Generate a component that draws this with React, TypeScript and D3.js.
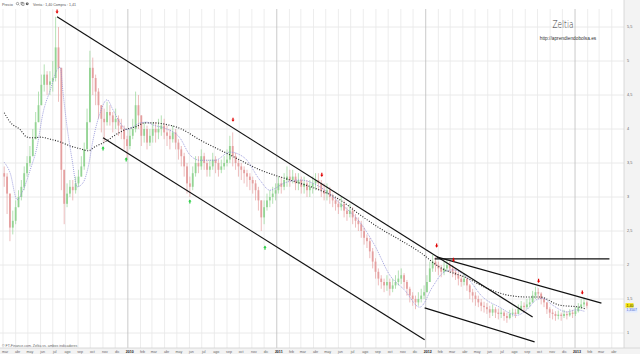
import React from "react";
import * as d3 from "d3";

const W = 640;
const H = 354;
const DAY = 864e5;
const firstWeek = new Date(2009, 2, 2);

// weekly candles (close, high, low); open = previous close
const closes = [
  3.30,3.05,2.55,2.65,2.85,3.00,3.15,3.35,3.50,3.60,
  3.85,4.10,4.35,4.65,4.80,4.65,4.70,4.75,5.20,4.90,
  3.40,2.90,3.05,3.15,3.10,3.20,3.30,3.45,3.70,4.10,
  4.90,4.75,4.55,4.35,4.15,4.10,4.25,4.20,4.10,4.15,
  4.05,4.00,3.85,3.75,3.90,4.00,4.35,4.20,3.90,4.00,
  3.80,3.90,4.00,3.95,4.00,4.05,3.95,3.90,3.85,3.95,
  3.80,3.70,3.60,3.45,3.20,3.15,3.35,3.50,3.45,3.60,
  3.50,3.40,3.45,3.55,3.50,3.40,3.45,3.50,3.55,3.75,
  3.60,3.50,3.45,3.40,3.35,3.30,3.25,3.20,3.10,2.95,
  2.70,2.85,2.95,3.00,3.05,3.10,3.20,3.15,3.25,3.30,
  3.25,3.30,3.20,3.25,3.15,3.20,3.10,3.15,3.20,3.25,
  3.20,3.10,3.05,3.10,3.00,2.95,2.90,2.85,2.90,2.80,
  2.75,2.80,2.70,2.65,2.60,2.50,2.40,2.35,2.20,2.05,
  1.90,1.80,1.75,1.70,1.75,1.65,1.70,1.75,1.80,1.85,
  1.75,1.65,1.55,1.50,1.45,1.50,1.55,1.60,1.75,1.95,
  2.05,2.00,1.95,1.90,1.95,2.00,1.95,1.90,1.85,1.80,
  1.75,1.80,1.70,1.60,1.55,1.50,1.45,1.40,1.38,1.35,
  1.30,1.35,1.30,1.28,1.30,1.25,1.22,1.28,1.30,1.28,
  1.35,1.40,1.38,1.42,1.45,1.55,1.60,1.58,1.50,1.45,
  1.35,1.30,1.28,1.25,1.27,1.25,1.28,1.26,1.30,1.28,
  1.32,1.38,1.42,1.45,1.40,
];
const highs = [
  3.45,3.35,3.00,2.80,2.95,3.10,3.25,3.45,3.60,3.75,
  4.00,4.25,4.55,4.80,4.95,4.85,4.85,5.00,5.65,5.50,
  4.60,3.30,3.20,3.25,3.25,3.30,3.40,3.60,3.80,4.30,
  5.15,5.05,4.80,4.60,4.35,4.30,4.40,4.35,4.25,4.30,
  4.20,4.15,4.05,3.90,4.00,4.15,4.55,4.50,4.20,4.10,
  4.05,4.00,4.10,4.10,4.15,4.20,4.15,4.05,4.00,4.05,
  4.00,3.85,3.75,3.65,3.50,3.30,3.45,3.60,3.60,3.70,
  3.65,3.55,3.55,3.65,3.60,3.55,3.55,3.60,3.70,3.90,
  3.95,3.65,3.55,3.50,3.45,3.40,3.35,3.30,3.25,3.15,
  2.95,2.95,3.05,3.10,3.15,3.20,3.30,3.30,3.35,3.45,
  3.40,3.40,3.35,3.35,3.30,3.30,3.25,3.25,3.30,3.35,
  3.35,3.25,3.20,3.20,3.15,3.05,3.00,2.95,3.00,2.95,
  2.85,2.90,2.85,2.75,2.70,2.65,2.55,2.45,2.40,2.25,
  2.10,1.95,1.85,1.80,1.85,1.80,1.80,1.85,1.92,1.95,
  1.88,1.78,1.68,1.60,1.55,1.60,1.65,1.70,1.85,2.05,
  2.15,2.12,2.05,2.00,2.05,2.08,2.05,2.00,1.95,1.90,
  1.85,1.88,1.82,1.72,1.65,1.60,1.55,1.50,1.46,1.44,
  1.40,1.42,1.38,1.36,1.36,1.33,1.30,1.34,1.36,1.35,
  1.42,1.47,1.45,1.50,1.52,1.62,1.68,1.66,1.60,1.52,
  1.45,1.38,1.35,1.32,1.33,1.30,1.34,1.32,1.35,1.34,
  1.38,1.44,1.50,1.52,1.48,
];
const lows = [
  3.15,2.75,2.35,2.45,2.60,2.85,2.95,3.10,3.30,3.45,
  3.60,3.85,4.10,4.35,4.55,4.50,4.50,4.55,4.70,4.40,
  3.10,2.60,2.85,3.00,2.95,3.05,3.15,3.30,3.40,3.70,
  4.20,4.50,4.35,4.15,3.95,3.80,4.05,4.05,3.95,4.00,
  3.90,3.85,3.70,3.55,3.70,3.85,3.95,4.00,3.75,3.80,
  3.70,3.75,3.80,3.80,3.85,3.90,3.85,3.75,3.70,3.80,
  3.70,3.55,3.45,3.30,3.05,3.00,3.10,3.30,3.35,3.40,
  3.40,3.30,3.30,3.40,3.35,3.30,3.35,3.40,3.45,3.50,
  3.45,3.40,3.30,3.25,3.20,3.15,3.10,3.05,2.95,2.80,
  2.50,2.60,2.80,2.85,2.90,2.95,3.05,3.05,3.10,3.15,
  3.15,3.20,3.10,3.10,3.05,3.05,3.00,3.00,3.05,3.10,
  3.10,3.00,2.95,2.95,2.90,2.85,2.80,2.75,2.80,2.70,
  2.65,2.70,2.60,2.55,2.50,2.40,2.30,2.25,2.10,1.95,
  1.80,1.70,1.65,1.60,1.62,1.55,1.60,1.65,1.70,1.72,
  1.65,1.55,1.45,1.40,1.35,1.40,1.45,1.50,1.60,1.75,
  1.90,1.90,1.85,1.82,1.85,1.90,1.88,1.82,1.78,1.70,
  1.68,1.70,1.62,1.50,1.45,1.40,1.38,1.32,1.30,1.28,
  1.22,1.25,1.22,1.20,1.22,1.18,1.15,1.20,1.24,1.22,
  1.28,1.32,1.30,1.35,1.38,1.45,1.50,1.50,1.42,1.38,
  1.28,1.22,1.20,1.18,1.20,1.18,1.22,1.20,1.24,1.22,
  1.25,1.30,1.35,1.38,1.36,
];
const firstOpen = 3.35;

// short moving average (blue dotted), read at week positions
const blueMaWeek = [0,2.1,4.5,6.6,9.1,11.5,13.6,16.1,18.5,19.6,20.6,22,23.8,25.5,27.6,29.4,31.1,33.6,36,38.1,40.6,43,45.1,47.6,50,52.1,56.3,61.5,65,68.5,73.8,79,84.3,89.5,93,98.3,103.5,110.5,117.5,124.5,129.7,135,140.2,145.5,150,153.5,157,161.9,167.5,173.4,179.4,182.9,186.4,188.5,192,196.9,200.3,203.1];
const blueMaVal = [3.51,3.35,2.96,3.10,3.40,3.74,4.24,4.57,4.87,4.91,4.53,4.03,3.54,3.15,3.21,3.44,3.84,4.24,4.43,4.28,4.09,3.99,4.03,4.09,4.10,4.06,4.01,3.87,3.62,3.54,3.54,3.66,3.57,3.25,3.10,3.21,3.25,3.15,2.91,2.63,2.29,1.85,1.63,1.38,1.68,1.88,1.93,1.82,1.53,1.38,1.26,1.34,1.49,1.51,1.41,1.31,1.34,1.32];

// long moving average (black dotted)
const blackMaWeek = [0,2.1,5.6,8,10.1,12.6,16.1,19.6,23.1,26.6,29.4,31.8,35.3,38.8,42.3,45.8,49.3,52.8,56.3,61.5,68.5,79,89.5,100,110.5,117.5,124.5,131.5,138.5,145.5,152.4,161.9,168.9,175.9,182.9,187.4,194.4,201.4,203.8];
const blackMaVal = [4.24,4.10,3.99,3.88,3.87,3.88,3.85,3.81,3.75,3.71,3.68,3.74,3.81,3.91,3.99,4.03,4.09,4.09,4.07,4.01,3.84,3.62,3.40,3.25,3.10,2.96,2.74,2.54,2.37,2.19,1.97,1.81,1.66,1.56,1.53,1.53,1.41,1.38,1.35];

// trend lines: start/end week and value
const trendStartWeek = [18.5, 34.6, 151.4, 150.7, 147.2];
const trendStartVal = [5.65, 3.87, 2.12, 2.09, 1.37];
const trendEndWeek = [185, 147.2, 209.1, 211.9, 185.7];
const trendEndVal = [1.235, 0.90, 1.44, 2.09, 0.87];

// signal arrows
const redArrowWeek = [18.5, 80.1, 111.2, 151.4, 157.3, 187.1, 202.4];
const redArrowVal = [5.72, 4.13, 3.32, 2.28, 2.07, 1.76, 1.59];
const greenArrowWeek = [34.6, 42.7, 65.0, 91.3];
const greenArrowVal = [3.72, 3.56, 2.94, 2.26];

const yTicks = [1, 1.5, 2, 2.5, 3, 3.5, 4, 4.5, 5, 5.5];
const monthNames = ["ene", "feb", "mar", "abr", "may", "jun", "jul", "ago", "sep", "oct", "nov", "dic"];
const lastPriceLabel = "1,40";
const lastPrice = 1.40;
const lastMaLabel = "1,3507";
const lastMa = 1.3507;

const plotLeft = 0, plotRight = 624, plotTop = 9, plotBottom = 348;

const x = d3.scaleTime().domain([new Date(2009, 2, 1), new Date(2013, 4, 1)]).range([3, 624]);
const y = d3.scaleLinear().domain([1, 5.5]).range([333, 27]);
const xw = (i: number) => x(new Date(firstWeek.getTime() + (i * 7 + 2) * DAY));
const fmt = (v: number) => String(v).replace(".", ",");

export default function App() {
  const months = d3.timeMonth.range(new Date(2009, 2, 1), new Date(2013, 4, 1));
  const n = Math.min(closes.length, highs.length, lows.length);
  const candles = d3.range(n).map((i) => {
    const o = i === 0 ? firstOpen : closes[i - 1];
    const c = closes[i];
    return { i, o, c, h: Math.max(highs[i], o, c), l: Math.min(lows[i], o, c) };
  });
  const lineGen = d3.line<[number, number]>().x((d) => xw(d[0])).y((d) => y(d[1])).curve(d3.curveMonotoneX);
  const blueD = lineGen(blueMaWeek.map((w, k) => [w, blueMaVal[k]]));
  const blackD = lineGen(blackMaWeek.map((w, k) => [w, blackMaVal[k]]));
  const font = "'Liberation Sans', Arial, sans-serif";

  return (
    <div style={{ position: "fixed", left: 0, top: 0 }}>
      <svg width={W} height={H} style={{ display: "block", background: "#fff" }}>
        <defs>
          <clipPath id="plot">
            <rect x={plotLeft} y={plotTop} width={plotRight - plotLeft} height={plotBottom - plotTop} />
          </clipPath>
        </defs>
        <rect x={0} y={0} width={W} height={H} fill="#fff" />
        {yTicks.map((t) => (
          <line key={"h" + t} x1={plotLeft} x2={plotRight} y1={y(t)} y2={y(t)} stroke="#e4e4e4" strokeWidth={0.8} />
        ))}
        {months.map((m) => (
          <line key={"v" + m.getTime()} x1={x(m)} x2={x(m)} y1={plotTop} y2={plotBottom}
            stroke={m.getMonth() === 0 ? "#bdbdbd" : "#e8e8e8"} strokeWidth={0.8} />
        ))}
        <g clipPath="url(#plot)">
          {candles.map((d) => {
            const up = d.c >= d.o;
            const col = up ? "#94d494" : "#e5a0a0";
            const cx = xw(d.i);
            const top = y(Math.max(d.o, d.c));
            const bot = y(Math.min(d.o, d.c));
            return (
              <g key={"c" + d.i}>
                <line x1={cx} x2={cx} y1={y(d.h)} y2={y(d.l)} stroke={col} strokeWidth={0.7} />
                <rect x={cx - 0.9} y={top} width={1.8} height={Math.max(0.8, bot - top)} fill={col} />
              </g>
            );
          })}
          <path d={blackD || ""} fill="none" stroke="#222" strokeWidth={1.1} strokeDasharray="1,1.6" />
          <path d={blueD || ""} fill="none" stroke="#8a8ad6" strokeWidth={0.8} strokeDasharray="1,1" />
          {trendStartWeek.map((w, k) => (
            <line key={"t" + k} x1={xw(w)} y1={y(trendStartVal[k])} x2={xw(trendEndWeek[k])} y2={y(trendEndVal[k])}
              stroke="#111" strokeWidth={1.2} />
          ))}
          {redArrowWeek.map((w, k) => {
            const cx = xw(w), cy = y(redArrowVal[k]);
            return (
              <path key={"r" + k} fill="#e00000"
                d={`M${cx - 0.6},${cy - 2.5} h1.2 v2 h1 l-1.6,2.2 l-1.6,-2.2 h1 z`} />
            );
          })}
          {greenArrowWeek.map((w, k) => {
            const cx = xw(w), cy = y(greenArrowVal[k]);
            return (
              <path key={"g" + k} fill="#1fcc3a"
                d={`M${cx - 0.6},${cy + 2.5} h1.2 v-2 h1 l-1.6,-2.2 l-1.6,2.2 h1 z`} />
            );
          })}
        </g>
        {/* header */}
        <text x={2} y={5.5} fontSize={3.8} fontFamily={font} fill="#555">Precio</text>
        <g stroke="#555" strokeWidth={0.5} fill="none">
          <circle cx={17.5} cy={3.6} r={1.2} />
          <line x1={18.4} y1={4.5} x2={19.4} y2={5.5} />
          <rect x={21} y={2.2} width={2} height={2.4} />
          <rect x={22} y={3} width={2} height={2.4} fill="#fff" />
        </g>
        <circle cx={27.2} cy={3.8} r={1.4} fill="#444" />
        <circle cx={27.2} cy={3.8} r={0.5} fill="#fff" />
        <text x={33} y={5.5} fontSize={3.6} fontFamily={font} fill="#555">Venta : 1,40 Compra : 1,41</text>
        {/* title */}
        <text x={563} y={28} fontSize={10} fontFamily="'DejaVu Sans', sans-serif" fill="#333"
          textAnchor="middle" fontWeight={200} textLength={21} lengthAdjust="spacingAndGlyphs">Zeltia</text>
        <text x={568} y={40} fontSize={4.8} fontFamily={font} fill="#333" textAnchor="middle">http://aprendiendobolsa.es</text>
        {/* footer */}
        <text x={2} y={346.5} fontSize={3.5} fontFamily={font} fill="#666">© FT-Finance.com. Zeltia vs. ambos indicadores</text>
        {/* right axis panel */}
        <rect x={plotRight} y={0} width={W - plotRight} height={H} fill="#f3f3f3" />
        <line x1={plotRight} x2={plotRight} y1={0} y2={H} stroke="#d0d0d0" strokeWidth={0.8} />
        {yTicks.map((t) => (
          <text key={"yl" + t} x={627} y={y(t) + 1.3} fontSize={3.8} fontFamily={font} fill="#666">{fmt(t)}</text>
        ))}
        <rect x={625.5} y={y(lastPrice) - 2.6} width={8} height={5} fill="#f5e400" />
        <text x={626.5} y={y(lastPrice) + 1.3} fontSize={3.6} fontFamily={font} fill="#333">{lastPriceLabel}</text>
        <rect x={625.5} y={y(lastMa) - 1.6} width={12} height={5} fill="#e3ebff" />
        <text x={626.5} y={y(lastMa) + 2.2} fontSize={3.4} fontFamily={font} fill="#4466cc">{lastMaLabel}</text>
        {/* bottom axis strip */}
        <rect x={0} y={plotBottom} width={W} height={H - plotBottom} fill="#f3f3f3" />
        <line x1={0} x2={W} y1={plotBottom} y2={plotBottom} stroke="#d0d0d0" strokeWidth={0.8} />
        {months.map((m) => {
          const isYear = m.getMonth() === 0;
          return (
            <text key={"ml" + m.getTime()} x={x(m) + 2} y={353} fontSize={3.6} fontFamily={font}
              textAnchor="middle" fill={isYear ? "#222" : "#666"} fontWeight={isYear ? 700 : 400}>
              {isYear ? String(m.getFullYear()) : monthNames[m.getMonth()]}
            </text>
          );
        })}
      </svg>
    </div>
  );
}
